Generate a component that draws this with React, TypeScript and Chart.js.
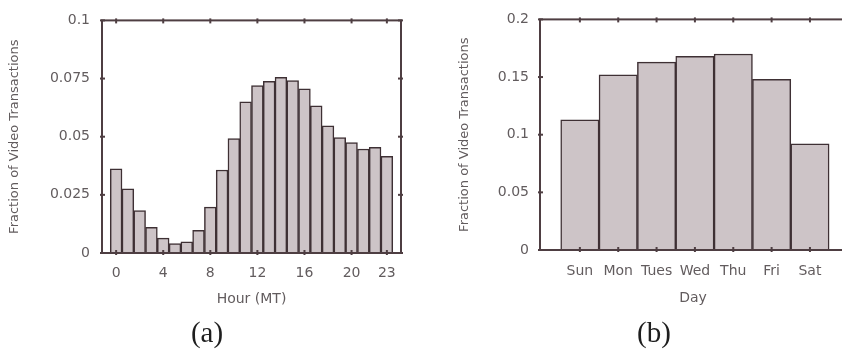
import { useEffect, useRef } from "react";
import { Chart, registerables } from "chart.js";
Chart.register(...registerables);

// ---- data (a): hour of day ----
const hours = [0, 1, 2, 3, 4, 5, 6, 7, 8, 9, 10, 11, 12, 13, 14, 15, 16, 17, 18, 19, 20, 21, 22, 23];
const hourlyFraction = [
  0.0362, 0.0276, 0.0182, 0.011, 0.0064, 0.0041, 0.0048, 0.0097, 0.0197, 0.0357, 0.0492, 0.065,
  0.072, 0.0738, 0.0755, 0.0741, 0.0706, 0.0633, 0.0547, 0.0496, 0.0475, 0.0447, 0.0454, 0.0416,
];
const hourTicks = [0, 4, 8, 12, 16, 20, 23];
const hourYTicks = [0, 0.025, 0.05, 0.075, 0.1];
const hourYLabels = ["0", "0.025", "0.05", "0.075", "0.1"];

// ---- data (b): day of week ----
const days = ["Sun", "Mon", "Tues", "Wed", "Thu", "Fri", "Sat"];
const dailyFraction = [0.113, 0.152, 0.163, 0.168, 0.17, 0.148, 0.092];
const dayYTicks = [0, 0.05, 0.1, 0.15, 0.2];
const dayYLabels = ["0", "0.05", "0.1", "0.15", "0.2"];

const FONT = "'DejaVu Sans', Arial, sans-serif";
const TEXT = "#625c5e";
const AXIS = "#4e3e42";
const BAR_FILL = "#cdc4c7";
const BAR_EDGE = "#3e3034";

function framePlugin(rightTicks: boolean) {
  return {
    id: "frame",
    afterDatasetsDraw(chart: any) {
      const { ctx, chartArea: a, scales } = chart;
      ctx.save();
      ctx.strokeStyle = AXIS;
      ctx.lineWidth = 2;
      ctx.strokeRect(a.left, a.top, a.right - a.left, a.bottom - a.top);
      const seg = (x1: number, y1: number, x2: number, y2: number) => {
        ctx.beginPath();
        ctx.moveTo(x1, y1);
        ctx.lineTo(x2, y2);
        ctx.stroke();
      };
      ctx.lineWidth = 2;
      scales.x.ticks.forEach((t: any) => {
        const px = scales.x.getPixelForValue(t.value);
        seg(px, a.bottom - 3, px, a.bottom + 2);
        seg(px, a.top - 2, px, a.top + 3);
      });
      scales.y.ticks.forEach((t: any) => {
        const py = scales.y.getPixelForValue(t.value);
        seg(a.left - 2, py, a.left + 3, py);
        if (rightTicks) seg(a.right - 3, py, a.right + 2, py);
      });
      ctx.restore();
    },
  };
}

function makeConfig(opts: {
  points: { x: number; y: number }[];
  xMin: number;
  xMax: number;
  xTicks: number[];
  xLabel: (v: number) => string;
  xTitle: string;
  xTickPad: number;
  xTitlePadBottom: number;
  xHeight: number;
  yMax: number;
  yTicks: number[];
  yLabels: string[];
  yWidth: number;
  yTickPad: number;
  yTitlePad: number;
  padding: { left: number; right: number; top: number; bottom: number };
  rightTicks: boolean;
}) {
  return {
    type: "bar",
    data: {
      datasets: [
        {
          data: opts.points,
          backgroundColor: BAR_FILL,
          borderColor: BAR_EDGE,
          borderWidth: 1.5,
          barPercentage: 1,
          categoryPercentage: 1,
        },
      ],
    },
    options: {
      animation: false,
      responsive: false,
      devicePixelRatio: 1,
      layout: { padding: opts.padding },
      plugins: { legend: { display: false }, tooltip: { enabled: false }, title: { display: false } },
      scales: {
        x: {
          type: "linear",
          min: opts.xMin,
          max: opts.xMax,
          offset: false,
          bounds: "data",
          grid: { display: false, drawTicks: false },
          border: { display: false },
          afterBuildTicks: (s: any) => {
            s.ticks = opts.xTicks.map((v) => ({ value: v }));
          },
          afterFit: (s: any) => {
            s.height = opts.xHeight;
          },
          ticks: {
            autoSkip: false,
            maxRotation: 0,
            padding: opts.xTickPad,
            color: TEXT,
            font: { family: FONT, size: 14 },
            callback: (v: any) => opts.xLabel(Number(v)),
          },
          title: {
            display: true,
            text: opts.xTitle,
            color: TEXT,
            font: { family: FONT, size: 14 },
            padding: { top: 0, bottom: opts.xTitlePadBottom },
          },
        },
        y: {
          type: "linear",
          min: 0,
          max: opts.yMax,
          grid: { display: false, drawTicks: false },
          border: { display: false },
          afterBuildTicks: (s: any) => {
            s.ticks = opts.yTicks.map((v) => ({ value: v }));
          },
          afterFit: (s: any) => {
            s.width = opts.yWidth;
          },
          ticks: {
            autoSkip: false,
            padding: opts.yTickPad,
            color: TEXT,
            font: { family: FONT, size: 14 },
            callback: (v: any) => {
              const i = opts.yTicks.findIndex((t) => Math.abs(t - Number(v)) < 1e-9);
              return i >= 0 ? opts.yLabels[i] : "";
            },
          },
          title: {
            display: true,
            text: "Fraction of Video Transactions",
            color: TEXT,
            font: { family: FONT, size: 13 },
            padding: { top: opts.yTitlePad, bottom: 0 },
          },
        },
      },
    },
    plugins: [framePlugin(opts.rightTicks)],
  } as any;
}

function BarPanel({ config, width, height, left }: { config: any; width: number; height: number; left: number }) {
  const ref = useRef<HTMLCanvasElement | null>(null);
  useEffect(() => {
    if (!ref.current) return;
    const chart = new Chart(ref.current, config);
    return () => chart.destroy();
  }, [config]);
  return (
    <canvas
      ref={ref}
      width={width}
      height={height}
      style={{ position: "absolute", left, top: 0, width, height, display: "block" }}
    />
  );
}

const configA = makeConfig({
  points: hours.map((h, i) => ({ x: h, y: hourlyFraction[i] })),
  xMin: -1.2,
  xMax: 24.2,
  xTicks: hourTicks,
  xLabel: (v) => String(v),
  xTitle: "Hour (MT)",
  xTickPad: 12,
  xTitlePadBottom: 42,
  xHeight: 97,
  yMax: 0.1,
  yTicks: hourYTicks,
  yLabels: hourYLabels,
  yWidth: 102,
  yTickPad: 12,
  yTitlePad: 7,
  padding: { left: 0, right: 20, top: 15, bottom: 0 },
  rightTicks: true,
});

const configB = makeConfig({
  points: days.map((_, i) => ({ x: i + 1, y: dailyFraction[i] })),
  xMin: -0.04,
  xMax: 7.94,
  xTicks: days.map((_, i) => i + 1),
  xLabel: (v) => days[Math.round(v) - 1] ?? "",
  xTitle: "Day",
  xTickPad: 13,
  xTitlePadBottom: 43,
  xHeight: 100,
  yMax: 0.2,
  yTicks: dayYTicks,
  yLabels: dayYLabels,
  yWidth: 119,
  yTickPad: 11,
  yTitlePad: 36,
  padding: { left: 0, right: 1, top: 15, bottom: 0 },
  rightTicks: false,
});

const captionStyle: any = {
  position: "absolute",
  top: 314,
  width: 80,
  textAlign: "center",
  fontFamily: "'Liberation Serif', 'Times New Roman', serif",
  fontSize: 29,
  lineHeight: "36px",
  color: "#1e1e1e",
};

export default function App() {
  return (
    <div
      style={{
        position: "fixed",
        left: 0,
        top: 0,
        width: 842,
        height: 350,
        overflow: "hidden",
        background: "#fff",
      }}
    >
      <BarPanel config={configA} width={421} height={350} left={0} />
      <BarPanel config={configB} width={426} height={350} left={421} />
      <div style={{ ...captionStyle, left: 207 - 40 }}>(a)</div>
      <div style={{ ...captionStyle, left: 654 - 40 }}>(b)</div>
    </div>
  );
}
